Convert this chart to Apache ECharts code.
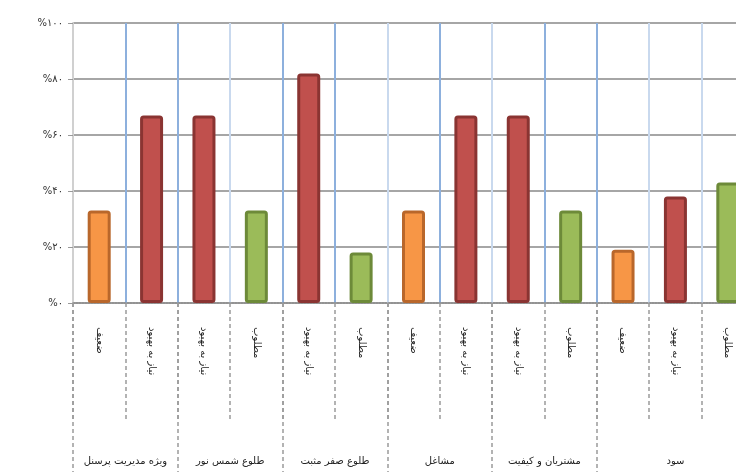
<!DOCTYPE html>
<html><head><meta charset="utf-8">
<script src="https://cdn.jsdelivr.net/npm/echarts@6/dist/echarts.min.js"></script>
<style>html,body{margin:0;padding:0;background:#fff}#c{width:736px;height:472px}</style>
</head><body><div id="c"></div>
<script>
const categories = ['ضعیف','نیاز به بهبود','نیاز به بهبود','مطلوب','نیاز به بهبود','مطلوب','ضعیف','نیاز به بهبود','نیاز به بهبود','مطلوب','ضعیف','نیاز به بهبود','مطلوب'];
const values = [33, 67, 67, 33, 82, 18, 33, 67, 67, 33, 19, 38, 43];
const levels = ['low','mid','mid','high','mid','high','low','mid','mid','high','low','mid','high'];
const groupNames = ['ویژه مدیریت پرسنل','طلوع شمس نور','طلوع صفر مثبت','مشاغل','مشتریان و کیفیت','سود'];
const groupBounds = [0, 2, 4, 6, 8, 10, 13];
const yTicks = [0, 20, 40, 60, 80, 100];

const fa = d => String(d).replace(/\d/g, c => '۰۱۲۳۴۵۶۷۸۹'[c]);
const palette = {
  low:  {fill:'#F79646', border:'#B9672B'},
  mid:  {fill:'#C0504D', border:'#8A3432'},
  high: {fill:'#9BBB59', border:'#6D8A39'}
};
const dark = '#8DB0DD', light = '#C9D9EE';
const vColors = ['#D6D6D6', dark, dark, light, dark, dark, light, dark, light, dark, dark, light, light, light];
const groupMids = groupNames.map((_, i) => (groupBounds[i] + groupBounds[i + 1]) / 2);

const chart = echarts.init(document.getElementById('c'));
chart.setOption({
  animation: false,
  textStyle: {fontFamily: 'DejaVu Sans'},
  grid: {left: 73, top: 23, right: -18, bottom: 169, outerBoundsMode: 'none', containLabel: false},
  xAxis: [{
    type: 'category', data: categories,
    axisLine: {lineStyle: {color: '#8c8c8c', type: 'dotted', width: 1.5}},
    axisTick: {show: true, interval: 0, length: 119, lineStyle: {color: '#9a9a9a', type: [4, 3], width: 1.5}},
    axisLabel: {interval: 0, rotate: -90, margin: 24, fontSize: 10, color: '#222'},
    splitLine: {show: true, interval: 0, lineStyle: {color: vColors, width: 2}}
  }, {
    type: 'value', min: 0, max: 13, position: 'bottom',
    axisLine: {show: false}, splitLine: {show: false},
    axisTick: {show: true, customValues: groupBounds, length: 169, lineStyle: {color: '#9a9a9a', type: [4, 3], width: 1.5}},
    axisLabel: {customValues: groupMids, formatter: v => groupNames[groupMids.indexOf(v)], margin: 153, fontSize: 10, color: '#222'}
  }],
  yAxis: {
    type: 'value', min: 0, max: 100, interval: 20,
    axisLine: {show: true, lineStyle: {color: '#d0d0d0', width: 2}},
    axisTick: {show: true, length: 5, lineStyle: {color: '#999'}},
    axisLabel: {formatter: v => yTicks.includes(v) ? '%' + fa(v) : '', fontSize: 10, color: '#333', margin: 10},
    splitLine: {lineStyle: {color: '#a6a6a6', width: 2}}
  },
  series: [{
    type: 'bar', xAxisIndex: 0, yAxisIndex: 0, barWidth: 23,
    data: values.map((v, i) => ({
      value: v,
      itemStyle: {color: palette[levels[i]].fill, borderColor: palette[levels[i]].border, borderWidth: 3, borderRadius: 2}
    }))
  }]
});
</script>
</body></html>
